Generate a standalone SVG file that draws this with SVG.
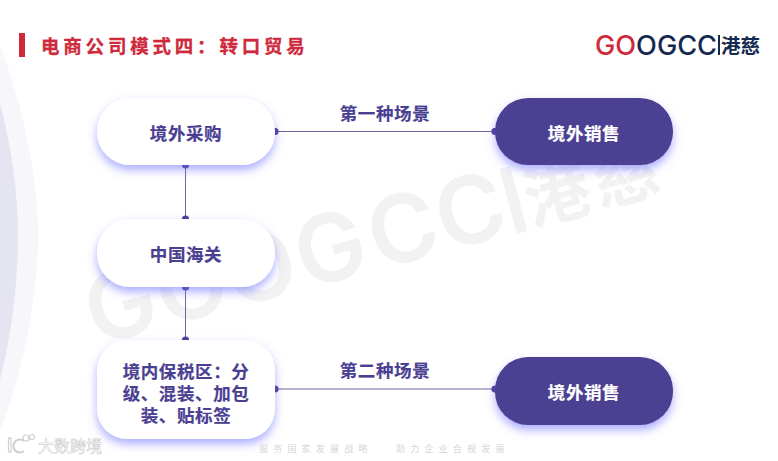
<svg xmlns="http://www.w3.org/2000/svg" width="778" height="461" viewBox="0 0 778 461">
<defs>
<filter id="sh" x="-30%" y="-30%" width="160%" height="170%"><feDropShadow dx="0" dy="5" stdDeviation="5" flood-color="#6a6cff" flood-opacity="0.55"/></filter>
<marker id="dot" markerUnits="userSpaceOnUse" markerWidth="8" markerHeight="8" refX="4" refY="4"><circle cx="4" cy="4" r="3.6" fill="#4b3f92"/></marker>
</defs>
<style>
text{font-family:"Noto Sans CJK SC","Noto Sans",sans-serif;font-weight:700}
.lab{font-size:17.500px;fill:#4b3f92;text-anchor:middle;letter-spacing:.6px;stroke:#4b3f92;stroke-width:.2px}
.wh{font-size:17.500px;fill:#fff;text-anchor:middle;letter-spacing:.6px;stroke:#fff;stroke-width:.2px}
.lt{fill:#fff;filter:url(#sh)}
.dk{fill:#4b3f92;filter:url(#sh)}
.cn{stroke:#4b3f92;stroke-width:1;fill:none;stroke-opacity:.8;marker-start:url(#dot);marker-end:url(#dot)}
.ft{font-size:9px;font-weight:400;fill:#d6d6d6;letter-spacing:5.200px}
.wm{fill:#f2f2f2}
</style>
<rect width="778" height="461" fill="#fff"/>
<path d="M0 45C24 110 38 180 38 235C38 300 22 375 0 430Z" fill="#f6f6fb"/>
<path d="M0 103C12 150 18 195 18 235C18 290 10 340 0 380Z" fill="#e5e5f2"/>
<g transform="rotate(-15 90 345)">
<text class="wm" y="347" x="40 113 184 257 332 402" text-anchor="middle" font-size="94" style="font-family:Inter,sans-serif;font-weight:600" transform="translate(90 0)">GOOGCC</text>
<rect class="wm" x="531" y="281" width="11" height="67"/>
<text class="wm" x="547" y="344" font-size="66" letter-spacing="5">港慈</text>
</g>
<rect x="19" y="33" width="6" height="24" fill="#cf2a3c"/>
<text x="41" y="52.500" font-size="18.500" fill="#cf2a3c" stroke="#cf2a3c" stroke-width=".3" letter-spacing="3.800">电商公司模式四：转口贸易</text>
<g id="logo"><text x="595" y="54.500" font-size="27" style="font-family:Inter,sans-serif;font-weight:500" fill="#cf2a3c" textLength="122" lengthAdjust="spacingAndGlyphs">GO<tspan fill="#14294f">OGCC</tspan></text><rect x="718" y="35" width="2" height="20" fill="#14294f"/><text x="721" y="52.500" font-size="19.500" fill="#14294f">港慈</text></g>
<g id="connectors">
<path class="cn" d="M275 131.500H495"/>
<path class="cn" d="M275 389H495"/>
<path class="cn" d="M185.500 165V219"/>
<path class="cn" d="M185.500 287V340"/>
<text class="lab" x="385" y="119.500">第一种场景</text>
<text class="lab" x="385" y="376.500">第二种场景</text>
</g>
<g id="n1"><rect class="lt" x="97" y="98" width="178" height="67" rx="33"/><text class="lab" x="186" y="140">境外采购</text></g>
<g id="n2"><rect class="lt" x="97" y="219" width="178" height="68" rx="33"/><text class="lab" x="186" y="261">中国海关</text></g>
<g id="n3"><rect class="lt" x="97" y="340" width="178" height="99" rx="30"/><text class="lab" x="186" y="377.500">境内保税区：分<tspan x="186" y="400">级、混装、加包</tspan><tspan x="186" y="422">装、贴标签</tspan></text></g>
<g id="n4"><rect class="dk" x="495" y="98" width="178" height="67" rx="33"/><text class="wh" x="584" y="140">境外销售</text></g>
<g id="n5"><rect class="dk" x="495" y="357" width="178" height="68" rx="33"/><text class="wh" x="584" y="398.500">境外销售</text></g>
<text class="ft" x="259" y="452">服务国家发展战略</text>
<text class="ft" x="396" y="452">助力企业合规发展</text>
<g id="stamp" fill="#fff" stroke="#cfcfcf" stroke-width="1.200"><rect x="8.500" y="438" width="2.500" height="14"/><path d="M24 441A6.500 6.500 0 1 0 24 451" fill="none" stroke-width="2"/><circle cx="26" cy="438" r="3"/><circle cx="32" cy="437" r="2.500"/></g>
<text x="38" y="452" font-size="16" fill="#fff" stroke="#c8c8c8" stroke-width=".5" style="font-weight:400">大数跨境</text>
</svg>
